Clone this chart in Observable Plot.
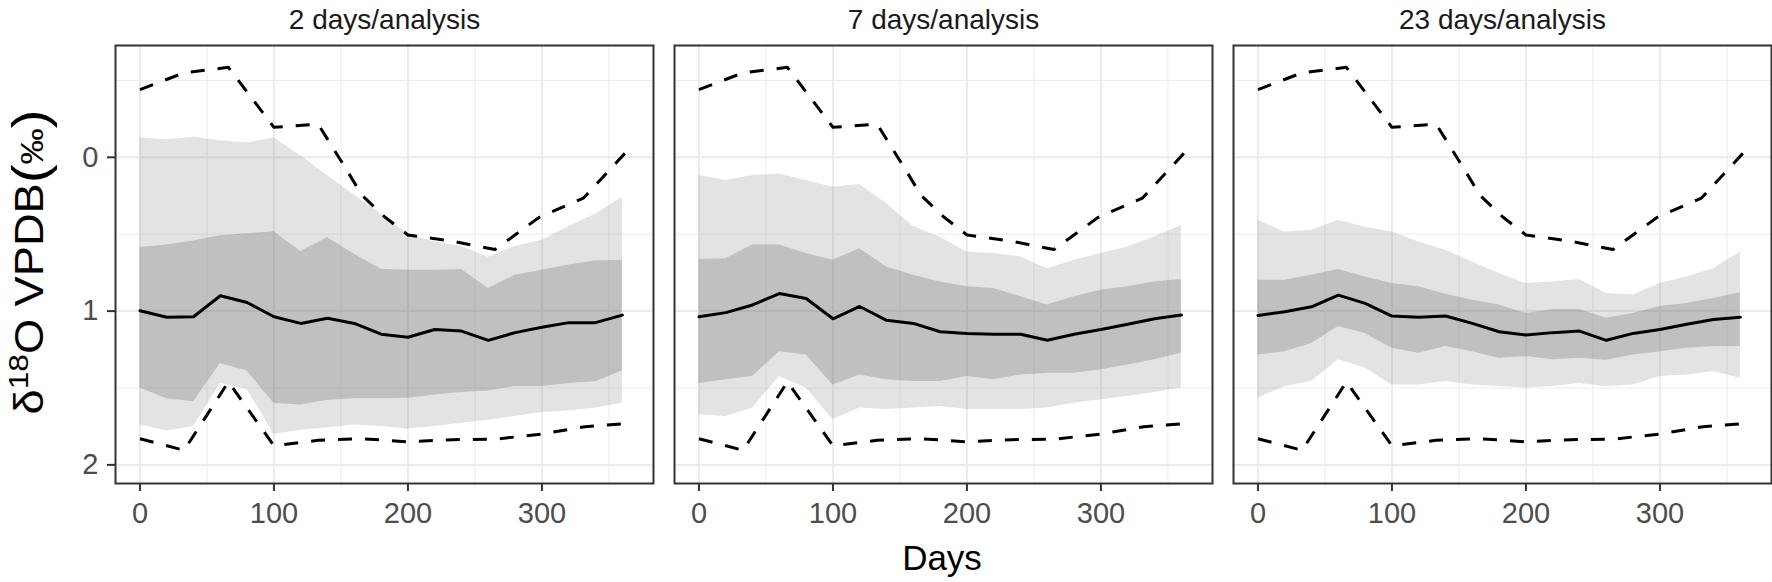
<!DOCTYPE html>
<html>
<head>
<meta charset="utf-8">
<script src="https://cdn.jsdelivr.net/npm/d3@7"></script>
<script src="https://cdn.jsdelivr.net/npm/@observablehq/plot@0.6"></script>
<style>
  html, body { margin: 0; padding: 0; background: #ffffff; }
  #wrap { position: relative; width: 1772px; height: 582px; font-family: "Liberation Sans", Arial, sans-serif; }
  #ylab { position: absolute; left: 30px; top: 262px; transform: translate(-50%, -50%) rotate(-90deg) scaleX(1.13); white-space: nowrap; font-size: 40px; color: #000; line-height: 1; }
  #ylab sup { font-size: 0.7em; vertical-align: 0.55em; line-height: 0; }
  #ylab .par { font-size: 1.25em; vertical-align: -0.08em; }
  #ylab .pm { font-size: 0.8em; }
  #xlab { position: absolute; left: 942px; top: 540px; transform: translateX(-50%); font-size: 35px; color: #000; line-height: 1; }
</style>
</head>
<body>
<div id="wrap">
  <div id="chart"></div>
  <div id="ylab">δ<sup>18</sup>O VPDB<span class="par">(</span><span class="pm">‰</span><span class="par">)</span></div>
  <div id="xlab">Days</div>
</div>
<script>
// ---------- data ----------
const panels = ["2 days/analysis", "7 days/analysis", "23 days/analysis"];
const days = [0, 20, 40, 60, 80, 100, 120, 140, 160, 180, 200, 220, 240, 260, 280, 300, 320, 340, 360];

// panel 1: 2 days/analysis
const median2 = [0.998, 1.04, 1.037, 0.90, 0.944, 1.037, 1.08, 1.047, 1.08, 1.15, 1.17, 1.12, 1.13, 1.19, 1.14, 1.105, 1.075, 1.075, 1.026];
const innerTop2 = [0.587, 0.57, 0.544, 0.51, 0.497, 0.484, 0.613, 0.523, 0.63, 0.728, 0.734, 0.734, 0.73, 0.853, 0.767, 0.734, 0.70, 0.674, 0.67];
const innerBottom2 = [1.50, 1.57, 1.59, 1.34, 1.39, 1.60, 1.61, 1.58, 1.57, 1.57, 1.566, 1.545, 1.53, 1.52, 1.49, 1.49, 1.47, 1.46, 1.39];
const outerTop2 = [-0.125, -0.114, -0.13, -0.108, -0.093, -0.125, -0.01, 0.12, 0.245, 0.37, 0.50, 0.55, 0.58, 0.65, 0.58, 0.54, 0.45, 0.37, 0.26];
const outerBottom2 = [1.74, 1.78, 1.75, 1.47, 1.51, 1.80, 1.775, 1.76, 1.74, 1.75, 1.767, 1.75, 1.73, 1.71, 1.685, 1.66, 1.65, 1.63, 1.60];

// panel 2: 7 days/analysis
const median7 = [1.037, 1.01, 0.96, 0.886, 0.918, 1.05, 0.97, 1.06, 1.08, 1.134, 1.145, 1.15, 1.15, 1.19, 1.15, 1.12, 1.085, 1.05, 1.026];
const innerTop7 = [0.665, 0.66, 0.57, 0.57, 0.626, 0.67, 0.594, 0.713, 0.767, 0.81, 0.842, 0.853, 0.907, 0.96, 0.907, 0.864, 0.842, 0.81, 0.795];
const innerBottom7 = [1.47, 1.447, 1.425, 1.264, 1.285, 1.48, 1.415, 1.447, 1.458, 1.458, 1.425, 1.447, 1.415, 1.404, 1.404, 1.382, 1.35, 1.317, 1.274];
const outerTop7 = [0.119, 0.151, 0.119, 0.108, 0.151, 0.194, 0.177, 0.30, 0.45, 0.52, 0.615, 0.626, 0.648, 0.724, 0.67, 0.626, 0.583, 0.518, 0.443];
const outerBottom7 = [1.674, 1.685, 1.63, 1.425, 1.50, 1.706, 1.63, 1.64, 1.63, 1.62, 1.64, 1.64, 1.64, 1.63, 1.60, 1.577, 1.555, 1.53, 1.50];

// panel 3: 23 days/analysis
const median23 = [1.028, 1.004, 0.972, 0.896, 0.95, 1.032, 1.04, 1.032, 1.08, 1.134, 1.155, 1.14, 1.13, 1.19, 1.145, 1.12, 1.085, 1.054, 1.04];
const innerTop23 = [0.80, 0.80, 0.767, 0.73, 0.778, 0.82, 0.842, 0.89, 0.93, 0.96, 1.015, 0.99, 0.99, 1.047, 1.015, 0.97, 0.95, 0.918, 0.88];
const innerBottom23 = [1.285, 1.264, 1.21, 1.10, 1.145, 1.242, 1.274, 1.23, 1.264, 1.307, 1.296, 1.317, 1.307, 1.32, 1.285, 1.264, 1.242, 1.23, 1.23];
const outerTop23 = [0.41, 0.486, 0.475, 0.41, 0.454, 0.486, 0.55, 0.605, 0.68, 0.756, 0.82, 0.81, 0.795, 0.886, 0.896, 0.82, 0.778, 0.724, 0.616];
const outerBottom23 = [1.566, 1.49, 1.458, 1.317, 1.37, 1.48, 1.48, 1.458, 1.48, 1.49, 1.50, 1.49, 1.47, 1.49, 1.48, 1.425, 1.415, 1.393, 1.436];

// dashed envelope (same in every panel)
const envTopDays = [0, 33, 66, 100, 133, 150, 166, 183, 200, 233, 265, 298, 331, 365];
const envTop = [-0.44, -0.55, -0.585, -0.195, -0.215, 0.022, 0.25, 0.39, 0.505, 0.545, 0.60, 0.39, 0.265, -0.055];
const envBottomDays = [0, 33, 66, 100, 133, 166, 200, 233, 266, 299, 332, 365];
const envBottom = [1.83, 1.905, 1.46, 1.875, 1.84, 1.83, 1.85, 1.836, 1.832, 1.80, 1.752, 1.73];

// axis ticks
const xTicks = [0, 100, 200, 300];
const xMinor = [50, 150, 250, 350];
const yTicks = [0, 1, 2];
const yMinor = [-0.5, 0.5, 1.5];

// ---------- tables ----------
const series = [
  [median2, innerTop2, innerBottom2, outerTop2, outerBottom2],
  [median7, innerTop7, innerBottom7, outerTop7, outerBottom7],
  [median23, innerTop23, innerBottom23, outerTop23, outerBottom23]
];
const bands = [];
panels.forEach((p, i) => {
  const [m, it, ib, ot, ob] = series[i];
  days.forEach((d, j) => bands.push({panel: p, day: d, med: m[j], innerTop: it[j], innerBottom: ib[j], outerTop: ot[j], outerBottom: ob[j]}));
});
const env = [];
panels.forEach(p => {
  envTopDays.forEach((d, j) => env.push({panel: p, which: "top", day: d, value: envTop[j]}));
  envBottomDays.forEach((d, j) => env.push({panel: p, which: "bottom", day: d, value: envBottom[j]}));
});

// ---------- plot ----------
const chart = Plot.plot({
  width: 1772,
  height: 540,
  marginTop: 45,
  marginBottom: 57,
  marginLeft: 114,
  marginRight: 1,
  style: {fontFamily: "'Liberation Sans', Arial, sans-serif", background: "#ffffff", color: "#000"},
  fx: {domain: panels, paddingInner: 0.0384, paddingOuter: 0, label: null},
  x: {domain: [-18.25, 383.25]},
  y: {domain: [-0.727, 2.121], reverse: true},
  marks: [
    Plot.gridX(xMinor, {stroke: "#ebebeb", strokeOpacity: 1, strokeWidth: 1}),
    Plot.gridY(yMinor, {stroke: "#ebebeb", strokeOpacity: 1, strokeWidth: 1}),
    Plot.gridX(xTicks, {stroke: "#ebebeb", strokeOpacity: 1, strokeWidth: 2}),
    Plot.gridY(yTicks, {stroke: "#ebebeb", strokeOpacity: 1, strokeWidth: 2}),
    Plot.areaY(bands, {x: "day", y1: "outerTop", y2: "outerBottom", fx: "panel", fill: "#7f7f7f", fillOpacity: 0.22}),
    Plot.areaY(bands, {x: "day", y1: "innerTop", y2: "innerBottom", fx: "panel", fill: "#7f7f7f", fillOpacity: 0.35}),
    Plot.line(env, {x: "day", y: "value", z: "which", fx: "panel", stroke: "#000", strokeWidth: 3, strokeDasharray: "14,13", strokeLinecap: "butt"}),
    Plot.line(bands, {x: "day", y: "med", fx: "panel", stroke: "#000", strokeWidth: 3}),
    Plot.frame({stroke: "#333333", strokeWidth: 2}),
    Plot.axisX({ticks: xTicks, tickSize: 8, tickPadding: 11, fontSize: 29, fill: "#4d4d4d", stroke: "#333333", strokeWidth: 2, label: null}),
    Plot.axisY({ticks: yTicks, tickFormat: d3.format("d"), tickSize: 8, tickPadding: 9, fontSize: 29, fill: "#4d4d4d", stroke: "#333333", strokeWidth: 2, label: null}),
    Plot.axisFx({anchor: "top", tickSize: 0, tickPadding: 17, fontSize: 28, fill: "#1a1a1a", label: null})
  ]
});
document.getElementById("chart").appendChild(chart);
</script>
</body>
</html>
